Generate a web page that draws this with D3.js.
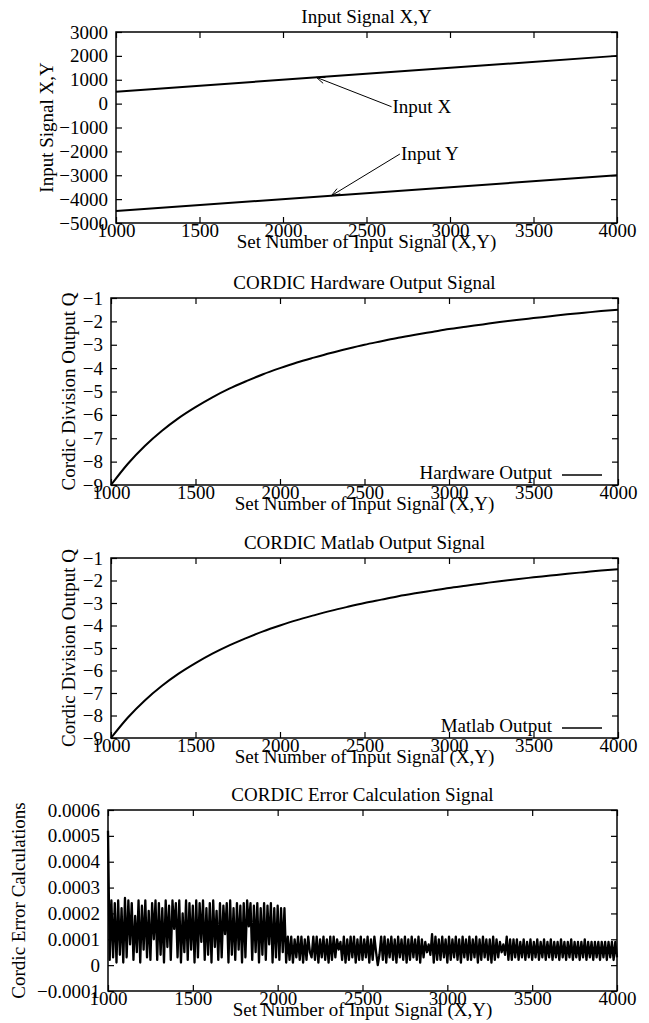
<!DOCTYPE html>
<html>
<head>
<meta charset="utf-8">
<script src="https://cdn.jsdelivr.net/npm/d3@7"></script>
<style>
  body { margin: 0; background: #fff; }
  text { font-family: "Liberation Serif", "Times New Roman", serif; fill: #000; }
</style>
</head>
<body>
<script>
// ---- data ----
var xTicks = [1000, 1500, 2000, 2500, 3000, 3500, 4000];

// panel 1: input signals (straight lines)
var inputSet = [1000, 4000];
var inputX = [500, 2000];
var inputY = [-4500, -3000];
var p1YTicks = [3000, 2000, 1000, 0, -1000, -2000, -3000, -4000, -5000];

// panel 2 / 3: quotient Q, read every 100 set numbers
var qSet = [1000, 1100, 1200, 1300, 1400, 1500, 1600, 1700, 1800, 1900, 2000,
  2100, 2200, 2300, 2400, 2500, 2600, 2700, 2800, 2900, 3000,
  3100, 3200, 3300, 3400, 3500, 3600, 3700, 3800, 3900, 4000];
var hardwareQ = [-9, -8.09, -7.33, -6.69, -6.14, -5.67, -5.25, -4.88, -4.56, -4.26, -4.0,
  -3.76, -3.55, -3.35, -3.17, -3.0, -2.85, -2.70, -2.57, -2.45, -2.33,
  -2.23, -2.13, -2.03, -1.94, -1.86, -1.78, -1.70, -1.63, -1.56, -1.5];
var matlabQ = [-9, -8.09, -7.33, -6.69, -6.14, -5.67, -5.25, -4.88, -4.56, -4.26, -4.0,
  -3.76, -3.55, -3.35, -3.17, -3.0, -2.85, -2.70, -2.57, -2.45, -2.33,
  -2.23, -2.13, -2.03, -1.94, -1.86, -1.78, -1.70, -1.63, -1.56, -1.5];
var qTicks = [-1, -2, -3, -4, -5, -6, -7, -8, -9];

// panel 4: error, in units of 1e-5, one value every 10 set numbers (1000..4000)
var errorE5 = [
  52, 2, 25, 3, 24, 1, 25, 4, 22, 1,
  26, 3, 25, 8, 24, 2, 19, 5, 25, 1,
  23, 6, 25, 3, 21, 2, 24, 10, 25, 2,
  24, 4, 22, 1, 25, 7, 23, 2, 25, 14,
  24, 3, 25, 1, 20, 5, 25, 2, 24, 6,
  23, 1, 25, 3, 24, 9, 25, 2, 22, 4,
  24, 1, 25, 7, 21, 2, 24, 3, 23, 12,
  24, 1, 25, 4, 22, 2, 24, 6, 23, 1,
  24, 3, 25, 15, 24, 2, 23, 5, 24, 1,
  22, 4, 24, 2, 23, 8, 24, 1, 22, 3,
  23, 2, 22, 5, 22, 1, 11, 2, 11, 1,
  10, 3, 11, 2, 11, 1, 10, 2, 11, 5,
  3, 11, 2, 11, 1, 10, 3, 11, 2, 10,
  1, 11, 2, 11, 3, 10, 6, 9, 2, 11,
  1, 10, 2, 11, 3, 11, 1, 10, 2, 11,
  2, 10, 3, 11, 1, 10, 2, 11, 5, 0,
  4, 11, 2, 11, 1, 10, 3, 11, 2, 10,
  1, 11, 3, 10, 2, 11, 1, 10, 2, 11,
  3, 10, 2, 11, 1, 10, 3, 9, 5, 8,
  4, 12, 1, 11, 2, 10, 2, 11, 3, 10,
  1, 11, 2, 10, 3, 11, 2, 10, 1, 11,
  3, 10, 2, 11, 2, 10, 3, 11, 1, 10,
  2, 11, 3, 10, 2, 10, 1, 11, 2, 10,
  3, 9, 5, 8, 4, 11, 2, 10, 2, 10,
  3, 10, 2, 9, 3, 10, 2, 9, 3, 10,
  2, 9, 3, 10, 2, 9, 3, 10, 2, 9,
  3, 10, 2, 9, 3, 9, 2, 10, 3, 9,
  2, 9, 3, 10, 2, 9, 3, 9, 2, 9,
  3, 10, 2, 9, 3, 9, 2, 9, 3, 9,
  2, 9, 3, 9, 2, 9, 3, 9, 2, 9,
  3
];
var errTicks = [60, 50, 40, 30, 20, 10, 0, -10];
var errTickLabels = ["0.0006", "0.0005", "0.0004", "0.0003", "0.0002", "0.0001", "0", "\u22120.0001"];

var xLabel = "Set Number of Input Signal (X,Y)";

var svg = d3.select("body").append("svg")
  .attr("width", 649)
  .attr("height", 1023);

var fontSize = 19;
var intFormat = function(d) { return d3.format("d")(d).replace("-", "\u2212"); };

// builds the framed plot with mirrored inward ticks, returns scales
function makePanel(box, yDomain, yTicks, yFormat, title, yLabel, yLabelX) {
  var x = d3.scaleLinear().domain([1000, 4000]).range([box.left, box.right]);
  var y = d3.scaleLinear().domain(yDomain).range([box.bottom, box.top]);
  var g = svg.append("g");

  var axes = [
    g.append("g").attr("transform", `translate(0,${box.bottom})`)
      .call(d3.axisBottom(x).tickValues(xTicks).tickSize(-6).tickSizeOuter(0).tickPadding(0).tickFormat(intFormat)),
    g.append("g").attr("transform", `translate(0,${box.top})`)
      .call(d3.axisTop(x).tickValues(xTicks).tickSize(-6).tickSizeOuter(0).tickFormat("")),
    g.append("g").attr("transform", `translate(${box.left},0)`)
      .call(d3.axisLeft(y).tickValues(yTicks).tickSize(-6).tickSizeOuter(0).tickPadding(8).tickFormat(yFormat)),
    g.append("g").attr("transform", `translate(${box.right},0)`)
      .call(d3.axisRight(y).tickValues(yTicks).tickSize(-6).tickSizeOuter(0).tickFormat(""))
  ];
  axes.forEach(function(a) {
    a.attr("font-family", null).attr("font-size", null);
    a.select(".domain").remove();
    a.selectAll("line").attr("stroke", "#000").attr("stroke-width", 1.2);
    a.selectAll("text").style("font-size", fontSize + "px");
  });

  g.append("rect")
    .attr("x", box.left).attr("y", box.top)
    .attr("width", box.right - box.left).attr("height", box.bottom - box.top)
    .attr("fill", "none").attr("stroke", "#000").attr("stroke-width", 1.5);

  g.append("text")
    .attr("x", (box.left + box.right) / 2).attr("y", box.top - 9.5)
    .attr("text-anchor", "middle").style("font-size", fontSize + "px")
    .text(title);

  g.append("text")
    .attr("x", (box.left + box.right) / 2).attr("y", box.bottom + 25)
    .attr("text-anchor", "middle").style("font-size", fontSize + "px")
    .text(xLabel);

  g.append("text")
    .attr("transform", `translate(${yLabelX},${(box.top + box.bottom) / 2}) rotate(-90)`)
    .attr("text-anchor", "middle").style("font-size", fontSize + "px")
    .text(yLabel);

  return { x: x, y: y, g: g };
}

function drawLine(p, xs, ys, width) {
  var line = d3.line()
    .x(function(d, i) { return p.x(xs[i]); })
    .y(function(d) { return p.y(d); });
  p.g.append("path")
    .datum(ys)
    .attr("d", line)
    .attr("fill", "none")
    .attr("stroke", "#000")
    .attr("stroke-width", width)
    .attr("stroke-linejoin", "round");
}

function drawSmooth(p, xs, ys) {
  var line = d3.line()
    .x(function(d, i) { return p.x(xs[i]); })
    .y(function(d) { return p.y(d); })
    .curve(d3.curveMonotoneX);
  p.g.append("path")
    .datum(ys)
    .attr("d", line)
    .attr("fill", "none")
    .attr("stroke", "#000")
    .attr("stroke-width", 2);
}

function legend(p, box, label) {
  var ly = box.bottom - 10;
  p.g.append("text")
    .attr("x", box.right - 66).attr("y", ly + 4)
    .attr("text-anchor", "end").style("font-size", fontSize + "px")
    .text(label);
  p.g.append("line")
    .attr("x1", box.right - 56).attr("x2", box.right - 16)
    .attr("y1", ly).attr("y2", ly)
    .attr("stroke", "#000").attr("stroke-width", 1.5);
}

// ---- panel 1 ----
var box1 = { left: 116, right: 617, top: 32, bottom: 223 };
var p1 = makePanel(box1, [-5000, 3000], p1YTicks, intFormat, "Input Signal X,Y", "Input Signal X,Y", 53);
drawLine(p1, inputSet, inputX, 2);
drawLine(p1, inputSet, inputY, 2);

// arrows with labels (data coordinates)
var notes = [
  { text: "Input X", x: 2650, y: -130, tx: 2200, ty: 1100 },
  { text: "Input Y", x: 2700, y: -2110, tx: 2290, ty: -3855 }
];
notes.forEach(function(n) {
  var x0 = p1.x(n.x), y0 = p1.y(n.y), x1 = p1.x(n.tx), y1 = p1.y(n.ty);
  var ang = Math.atan2(y0 - y1, x0 - x1);
  var len = 9, spread = 0.35;
  p1.g.append("path")
    .attr("d", `M${x0},${y0}L${x1},${y1}` +
      `M${x1 + len * Math.cos(ang - spread)},${y1 + len * Math.sin(ang - spread)}L${x1},${y1}` +
      `L${x1 + len * Math.cos(ang + spread)},${y1 + len * Math.sin(ang + spread)}`)
    .attr("fill", "none").attr("stroke", "#000").attr("stroke-width", 1);
  p1.g.append("text")
    .attr("x", x0 + 1).attr("y", y0 + 6)
    .style("font-size", fontSize + "px")
    .text(n.text);
});

// ---- panel 2 ----
var box2 = { left: 111, right: 618, top: 298, bottom: 485 };
var p2 = makePanel(box2, [-9, -1], qTicks, intFormat, "CORDIC Hardware Output Signal", "Cordic Division Output Q", 75);
drawSmooth(p2, qSet, hardwareQ);
legend(p2, box2, "Hardware Output");

// ---- panel 3 ----
var box3 = { left: 111, right: 618, top: 558, bottom: 738 };
var p3 = makePanel(box3, [-9, -1], qTicks, intFormat, "CORDIC Matlab Output Signal", "Cordic Division Output Q", 75);
drawSmooth(p3, qSet, matlabQ);
legend(p3, box3, "Matlab Output");

// ---- panel 4 ----
var box4 = { left: 108, right: 617, top: 810, bottom: 991 };
var p4 = makePanel(box4, [-10, 60], errTicks, function(d, i) { return errTickLabels[i]; },
  "CORDIC Error Calculation Signal", "Cordic Error Calculations", 25);
var errSet = errorE5.map(function(d, i) { return 1000 + i * 10; });
drawLine(p4, errSet, errorE5, 2.3);
</script>
</body>
</html>
